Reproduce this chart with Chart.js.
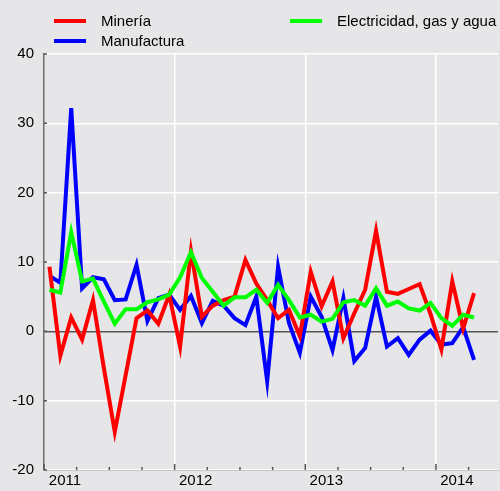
<!DOCTYPE html>
<html>
<head>
<meta charset="utf-8">
<title>Minería, Manufactura, Electricidad</title>
<script src="https://cdn.jsdelivr.net/npm/chart.js@4/dist/chart.umd.min.js"></script>
<style>
  html, body { margin: 0; padding: 0; background: #e6e6e8; }
  canvas { display: block; }
</style>
</head>
<body>
<canvas id="myChart" width="500" height="491"></canvas>
<script>
// months from Jan 2011 to Apr 2014
const periodos = [
  '2011-01','2011-02','2011-03','2011-04','2011-05','2011-06','2011-07','2011-08','2011-09','2011-10','2011-11','2011-12',
  '2012-01','2012-02','2012-03','2012-04','2012-05','2012-06','2012-07','2012-08','2012-09','2012-10','2012-11','2012-12',
  '2013-01','2013-02','2013-03','2013-04','2013-05','2013-06','2013-07','2013-08','2013-09','2013-10','2013-11','2013-12',
  '2014-01','2014-02','2014-03','2014-04'
];
const anios = ['2011', '2012', '2013', '2014'];

const mineria = [
  9.3, -3.5, 2.0, -1.2, 4.5, -5.3, -14.5, -6.3, 1.9, 3.0, 1.1, 5.3,
  -2.2, 11.6, 2.1, 3.7, 4.5, 5.0, 10.3, 6.9, 4.5, 1.9, 3.1, -0.7,
  8.6, 3.6, 7.2, -1.0, 2.6, 6.0, 14.5, 5.7, 5.4, 6.1, 6.8, 2.5,
  -2.6, 7.2, 0.4, 5.5
];
const manufactura = [
  8.0, 7.0, 32.2, 6.2, 7.8, 7.5, 4.5, 4.6, 9.6, 1.5, 4.8, 5.3,
  3.1, 5.1, 1.2, 4.4, 3.7, 1.9, 0.9, 5.0, -7.2, 9.3, 1.2, -3.1,
  5.0, 2.1, -2.7, 4.8, -4.3, -2.4, 5.0, -2.2, -1.0, -3.4, -1.2, 0.1,
  -1.9, -1.7, 0.6, -4.1
];
const electricidad = [
  6.0, 5.6, 14.3, 7.2, 7.6, 4.3, 1.1, 3.2, 3.2, 4.2, 4.6, 5.3,
  7.8, 11.4, 7.7, 5.7, 3.7, 4.9, 4.9, 6.0, 4.1, 6.7, 4.5, 2.0,
  2.4, 1.4, 1.8, 4.2, 4.5, 3.7, 6.2, 3.7, 4.3, 3.3, 3.0, 4.1,
  1.9, 0.8, 2.4, 2.0
];

const fontFamily = '"Liberation Sans", Arial, sans-serif';

// each month is drawn in the middle of its slot
const toPoints = (values) => values.map((v, i) => ({ x: i + 0.5, y: v }));

// gray background behind everything
const background = {
  id: 'background',
  beforeDraw(chart) {
    const { ctx, width, height } = chart;
    ctx.save();
    ctx.fillStyle = '#e6e6e8';
    ctx.fillRect(0, 0, width, height);
    ctx.restore();
  }
};

// small tick marks pointing into the plot
const innerTicks = {
  id: 'innerTicks',
  afterDraw(chart) {
    const { ctx, chartArea, scales } = chart;
    ctx.save();
    ctx.strokeStyle = '#555';
    ctx.lineWidth = 1.5;
    ctx.beginPath();
    for (let m = 0; m < periodos.length; m += 3) {
      const x = scales.x.getPixelForValue(m);
      const len = m % 12 === 0 ? 6 : 3;
      ctx.moveTo(x, chartArea.bottom);
      ctx.lineTo(x, chartArea.bottom - len);
    }
    scales.y.ticks.forEach((t) => {
      const y = scales.y.getPixelForValue(t.value);
      ctx.moveTo(chartArea.left, y);
      ctx.lineTo(chartArea.left + 3, y);
    });
    ctx.stroke();
    ctx.restore();
  }
};

// legend in two columns above the plot
const twoColLegend = {
  id: 'twoColLegend',
  afterDraw(chart) {
    const { ctx } = chart;
    const slots = [
      { x: 54, y: 21 },
      { x: 54, y: 41 },
      { x: 290, y: 21 }
    ];
    ctx.save();
    ctx.font = '15px ' + fontFamily;
    ctx.textBaseline = 'middle';
    ctx.textAlign = 'left';
    chart.data.datasets.forEach((ds, i) => {
      const s = slots[i];
      ctx.strokeStyle = ds.borderColor;
      ctx.lineWidth = 4;
      ctx.beginPath();
      ctx.moveTo(s.x, s.y);
      ctx.lineTo(s.x + 32, s.y);
      ctx.stroke();
      ctx.fillStyle = '#000';
      ctx.fillText(ds.label, s.x + 47, s.y + 1);
    });
    ctx.restore();
  }
};

const data = {
  datasets: [
    { label: 'Minería', data: toPoints(mineria), borderColor: '#ff0000', order: 1 },
    { label: 'Manufactura', data: toPoints(manufactura), borderColor: '#0000ff', order: 2 },
    { label: 'Electricidad, gas y agua', data: toPoints(electricidad), borderColor: '#00ff00', order: 0 }
  ]
};
data.datasets.forEach((ds) => {
  ds.borderWidth = 4;
  ds.pointRadius = 0;
  ds.tension = 0;
  ds.fill = false;
});

const config = {
  type: 'line',
  data,
  options: {
    responsive: false,
    animation: false,
    layout: { padding: { top: 54, left: 0, right: 0, bottom: 0 } },
    plugins: {
      legend: { display: false },
      tooltip: { enabled: false }
    },
    scales: {
      x: {
        type: 'linear',
        min: 0,
        max: 41.7,
        afterFit: (s) => { s.height = 21; },
        border: { display: true, color: '#c4c4c4', width: 1 },
        grid: {
          drawTicks: false,
          lineWidth: 1.5,
          color: (c) => (c.tick && c.tick.value > 0 && c.tick.value % 12 === 0) ? '#ffffff' : 'rgba(0,0,0,0)'
        },
        ticks: {
          stepSize: 3,
          autoSkip: false,
          maxRotation: 0,
          padding: 2,
          labelOffset: 21,
          color: '#000',
          font: { family: fontFamily, size: 15 },
          callback: (v) => (v % 12 === 0 ? anios[v / 12] : '')
        }
      },
      y: {
        min: -20,
        max: 40,
        afterFit: (s) => { s.width = 44; },
        border: { display: true, color: '#6e6e6e', width: 1.5 },
        grid: {
          drawTicks: false,
          lineWidth: 1.5,
          color: (c) => (c.tick && c.tick.value === 0) ? '#555555' : '#ffffff'
        },
        ticks: {
          stepSize: 10,
          padding: 10,
          color: '#000',
          font: { family: fontFamily, size: 15 }
        }
      }
    }
  },
  plugins: [background, innerTicks, twoColLegend]
};

// eslint-disable-next-line no-undef
new Chart(document.getElementById('myChart').getContext('2d'), config);
</script>
</body>
</html>
